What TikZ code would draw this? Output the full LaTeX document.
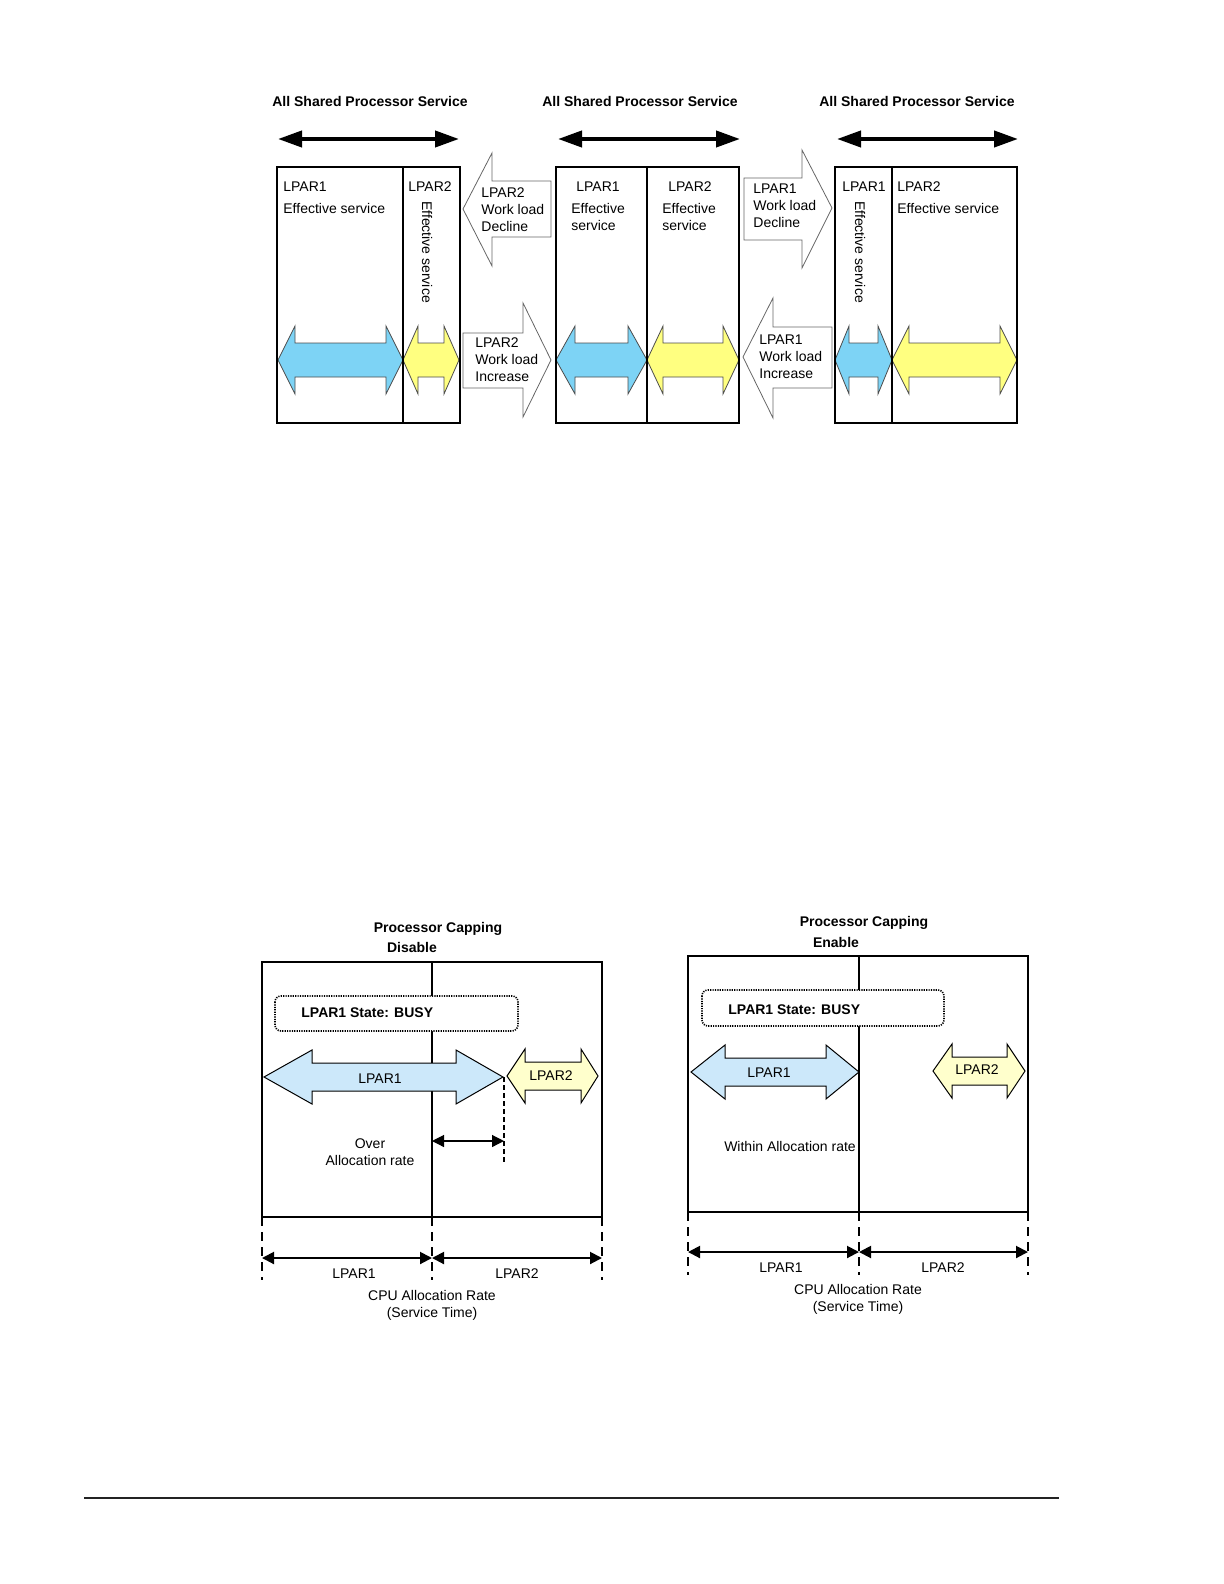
\documentclass[tikz,border=0pt]{standalone}
\usepackage{fontspec}
\setmainfont{Liberation Sans}
\usetikzlibrary{arrows.meta}

\definecolor{skyblue}{RGB}{125,211,245}
\definecolor{lemon}{RGB}{255,255,128}
\definecolor{paleblue}{RGB}{204,232,250}
\definecolor{paleyellow}{RGB}{255,255,204}
\definecolor{rulegray}{RGB}{35,35,35}

\tikzset{
  lbl/.style={font=\fontsize{7}{8.5}\selectfont,inner sep=0pt,text=black},
  hdr/.style={font=\fontsize{7}{8.5}\selectfont\bfseries,inner sep=0pt,text=black},
  frame/.style={draw=black,line width=0.8pt},
  thinframe/.style={draw=black,line width=0.6pt},
  blueblk/.style={fill=skyblue,draw=black!70,line width=0.4pt},
  yellowblk/.style={fill=lemon,draw=black!70,line width=0.4pt},
  paleblueblk/.style={fill=paleblue,draw=black,line width=0.5pt},
  paleyellowblk/.style={fill=paleyellow,draw=black,line width=0.5pt},
  moveblk/.style={fill=white,draw=black!60,line width=0.4pt},
  scalearrow/.style={line width=2pt,{Triangle[length=12pt,width=8pt]}-{Triangle[length=12pt,width=8pt]}},
  dimarrow/.style={line width=1pt,{Triangle[length=6pt,width=6pt]}-{Triangle[length=6pt,width=6pt]}},
  gaparrow/.style={line width=0.6pt,{Triangle[length=6pt,width=6pt]}-{Triangle[length=6pt,width=6pt]}},
  dimline/.style={line width=1.1pt,dash pattern=on 4.5pt off 3pt},
  busybox/.style={fill=white,draw=black,line width=0.8pt,dash pattern=on 0.6pt off 0.6pt,rounded corners=3pt}
}

\begin{document}
\begin{tikzpicture}[x=0.5pt,y=-0.5pt]
\useasboundingbox (0,0) rectangle (1224,1584);

% top row: shared service
\node[hdr] (ttl1) at (370,101) {All Shared Processor Service};
\node[hdr] (ttl2) at (640,101) {All Shared Processor Service};
\node[hdr] (ttl3) at (917,101) {All Shared Processor Service};

\coordinate (sa1l) at (278,139); \coordinate (sa1r) at (459,139);
\coordinate (sa2l) at (558,139); \coordinate (sa2r) at (740,139);
\coordinate (sa3l) at (837,139); \coordinate (sa3r) at (1018,139);
\draw[scalearrow] (sa1l) -- (sa1r);
\draw[scalearrow] (sa2l) -- (sa2r);
\draw[scalearrow] (sa3l) -- (sa3r);

\draw[blueblk] (278,360) -- (295,326) -- (295,343) -- (386,343) -- (386,326) -- (403,360) -- (386,394) -- (386,377) -- (295,377) -- (295,394) -- cycle;
\draw[yellowblk] (403,360) -- (418,326) -- (418,343) -- (444,343) -- (444,326) -- (459,360) -- (444,394) -- (444,377) -- (418,377) -- (418,394) -- cycle;
\draw[blueblk] (556,360) -- (575,326) -- (575,343) -- (628,343) -- (628,326) -- (647,360) -- (628,394) -- (628,377) -- (575,377) -- (575,394) -- cycle;
\draw[yellowblk] (647,360) -- (663,326) -- (663,343) -- (723,343) -- (723,326) -- (739,360) -- (723,394) -- (723,377) -- (663,377) -- (663,394) -- cycle;
\draw[blueblk] (835,360) -- (849,326) -- (849,343) -- (878,343) -- (878,326) -- (892,360) -- (878,394) -- (878,377) -- (849,377) -- (849,394) -- cycle;
\draw[yellowblk] (892,360) -- (909,326) -- (909,343) -- (1000,343) -- (1000,326) -- (1017,360) -- (1000,394) -- (1000,377) -- (909,377) -- (909,394) -- cycle;

\draw[frame] (277,167) rectangle (460,423);
\draw[frame] (403,167) -- (403,423);
\draw[frame] (556,167) rectangle (739,423);
\draw[frame] (647,167) -- (647,423);
\draw[frame] (835,167) rectangle (1017,423);
\draw[frame] (892,167) -- (892,423);

\node[lbl,anchor=west] (b1l1) at (283,187) {LPAR1};
\node[lbl,anchor=west] (b1e1) at (283,208) {Effective service};
\node[lbl,anchor=west] (b1l2) at (408,187) {LPAR2};
\node[lbl,rotate=-90] (b1e2) at (427,252) {Effective service};

\node[lbl] (b2l1) at (598,187) {LPAR1};
\node[lbl,anchor=west,align=left] (b2e1) at (571,217) {Effective\\service};
\node[lbl] (b2l2) at (690,187) {LPAR2};
\node[lbl,anchor=west,align=left] (b2e2) at (662,217) {Effective\\service};

\node[lbl] (b3l1) at (864,187) {LPAR1};
\node[lbl,rotate=-90] (b3e1) at (860,252) {Effective service};
\node[lbl,anchor=west] (b3l2) at (897,187) {LPAR2};
\node[lbl,anchor=west] (b3e2) at (897,208) {Effective service};

% work load changes
\draw[moveblk] (463,209) -- (492,153) -- (492,181) -- (551,181) -- (551,237) -- (492,237) -- (492,266) -- cycle;
\node[lbl,anchor=west,align=left] (dec2) at (481,210) {LPAR2\\Work load\\Decline};
\draw[moveblk] (463,333) -- (523,333) -- (523,303) -- (551,360) -- (523,417) -- (523,388) -- (463,388) -- cycle;
\node[lbl,anchor=west,align=left] (inc2) at (475,360) {LPAR2\\Work load\\Increase};
\draw[moveblk] (744,178) -- (802,178) -- (802,150) -- (832,208) -- (802,268) -- (802,240) -- (744,240) -- cycle;
\node[lbl,anchor=west,align=left] (dec1) at (753,206) {LPAR1\\Work load\\Decline};
\draw[moveblk] (743,357) -- (773,298) -- (773,327) -- (832,327) -- (832,388) -- (773,388) -- (773,418) -- cycle;
\node[lbl,anchor=west,align=left] (inc1) at (759,357) {LPAR1\\Work load\\Increase};

% capping disable
\node[hdr] (capd) at (438,929) {Processor Capping};
\node[hdr] (capdx) at (412,947) {Disable};
\draw[thinframe] (262,962) rectangle (602,1217);
\draw[thinframe] (432,962) -- (432,1217);
\draw[busybox] (275,996) rectangle (518,1031);
\node[hdr,anchor=west] (busyd) at (301,1013) {LPAR1 State: BUSY};
\draw[paleblueblk] (264,1077) -- (312,1050) -- (312,1063) -- (456,1063) -- (456,1050) -- (503,1077) -- (456,1104) -- (456,1091) -- (312,1091) -- (312,1104) -- cycle;
\node[lbl] (pd1) at (380,1079) {LPAR1};
\draw[paleyellowblk] (507,1076) -- (525,1049) -- (525,1062) -- (581,1062) -- (581,1049) -- (598,1076) -- (581,1103) -- (581,1090) -- (525,1090) -- (525,1103) -- cycle;
\node[lbl] (pd2) at (551,1076) {LPAR2};
\coordinate (ovtop) at (504,1077); \coordinate (ovbot) at (504,1162);
\draw[line width=0.8pt,dash pattern=on 2.5pt off 1.5pt] (ovtop) -- (ovbot);
\coordinate (ovl) at (432,1141); \coordinate (ovr) at (504,1141);
\draw[gaparrow] (ovl) -- (ovr);
\node[lbl,align=center] (over) at (370,1152) {Over\\Allocation rate};
\draw[dimline] (262,1217) -- (262,1280);
\draw[dimline] (432,1217) -- (432,1280);
\draw[dimline] (602,1217) -- (602,1280);
\coordinate (dl) at (262,1258); \coordinate (dm) at (432,1258); \coordinate (dr) at (602,1258);
\draw[dimarrow] (dl) -- (dm);
\draw[dimarrow] (dm) -- (dr);
\node[lbl] (dlp1) at (354,1274) {LPAR1};
\node[lbl] (dlp2) at (517,1274) {LPAR2};
\node[lbl,align=center] (drate) at (432,1305) {CPU Allocation Rate\\(Service Time)};

% capping enable
\node[hdr] (cape) at (864,923) {Processor Capping};
\node[hdr] (capex) at (836,942) {Enable};
\draw[thinframe] (688,956) rectangle (1028,1212);
\draw[thinframe] (859,956) -- (859,1212);
\draw[busybox] (702,990) rectangle (944,1026);
\node[hdr,anchor=west] (busye) at (728,1010) {LPAR1 State: BUSY};
\draw[paleblueblk] (691,1072) -- (725,1045) -- (725,1058) -- (826,1058) -- (826,1045) -- (859,1072) -- (826,1099) -- (826,1086) -- (725,1086) -- (725,1099) -- cycle;
\node[lbl] (pe1) at (769,1073) {LPAR1};
\draw[paleyellowblk] (933,1071) -- (952,1044) -- (952,1057) -- (1007,1057) -- (1007,1044) -- (1025,1071) -- (1007,1098) -- (1007,1085) -- (952,1085) -- (952,1098) -- cycle;
\node[lbl] (pe2) at (977,1070) {LPAR2};
\node[lbl] (within) at (790,1146) {Within Allocation rate};
\draw[dimline] (688,1212) -- (688,1275);
\draw[dimline] (859,1212) -- (859,1275);
\draw[dimline] (1028,1212) -- (1028,1275);
\coordinate (el) at (688,1252); \coordinate (em) at (859,1252); \coordinate (er) at (1028,1252);
\draw[dimarrow] (el) -- (em);
\draw[dimarrow] (em) -- (er);
\node[lbl] (elp1) at (781,1268) {LPAR1};
\node[lbl] (elp2) at (943,1268) {LPAR2};
\node[lbl,align=center] (erate) at (858,1299) {CPU Allocation Rate\\(Service Time)};

% page rule
\draw[rulegray,line width=1pt] (84,1498) -- (1059,1498);
\end{tikzpicture}
\end{document}
